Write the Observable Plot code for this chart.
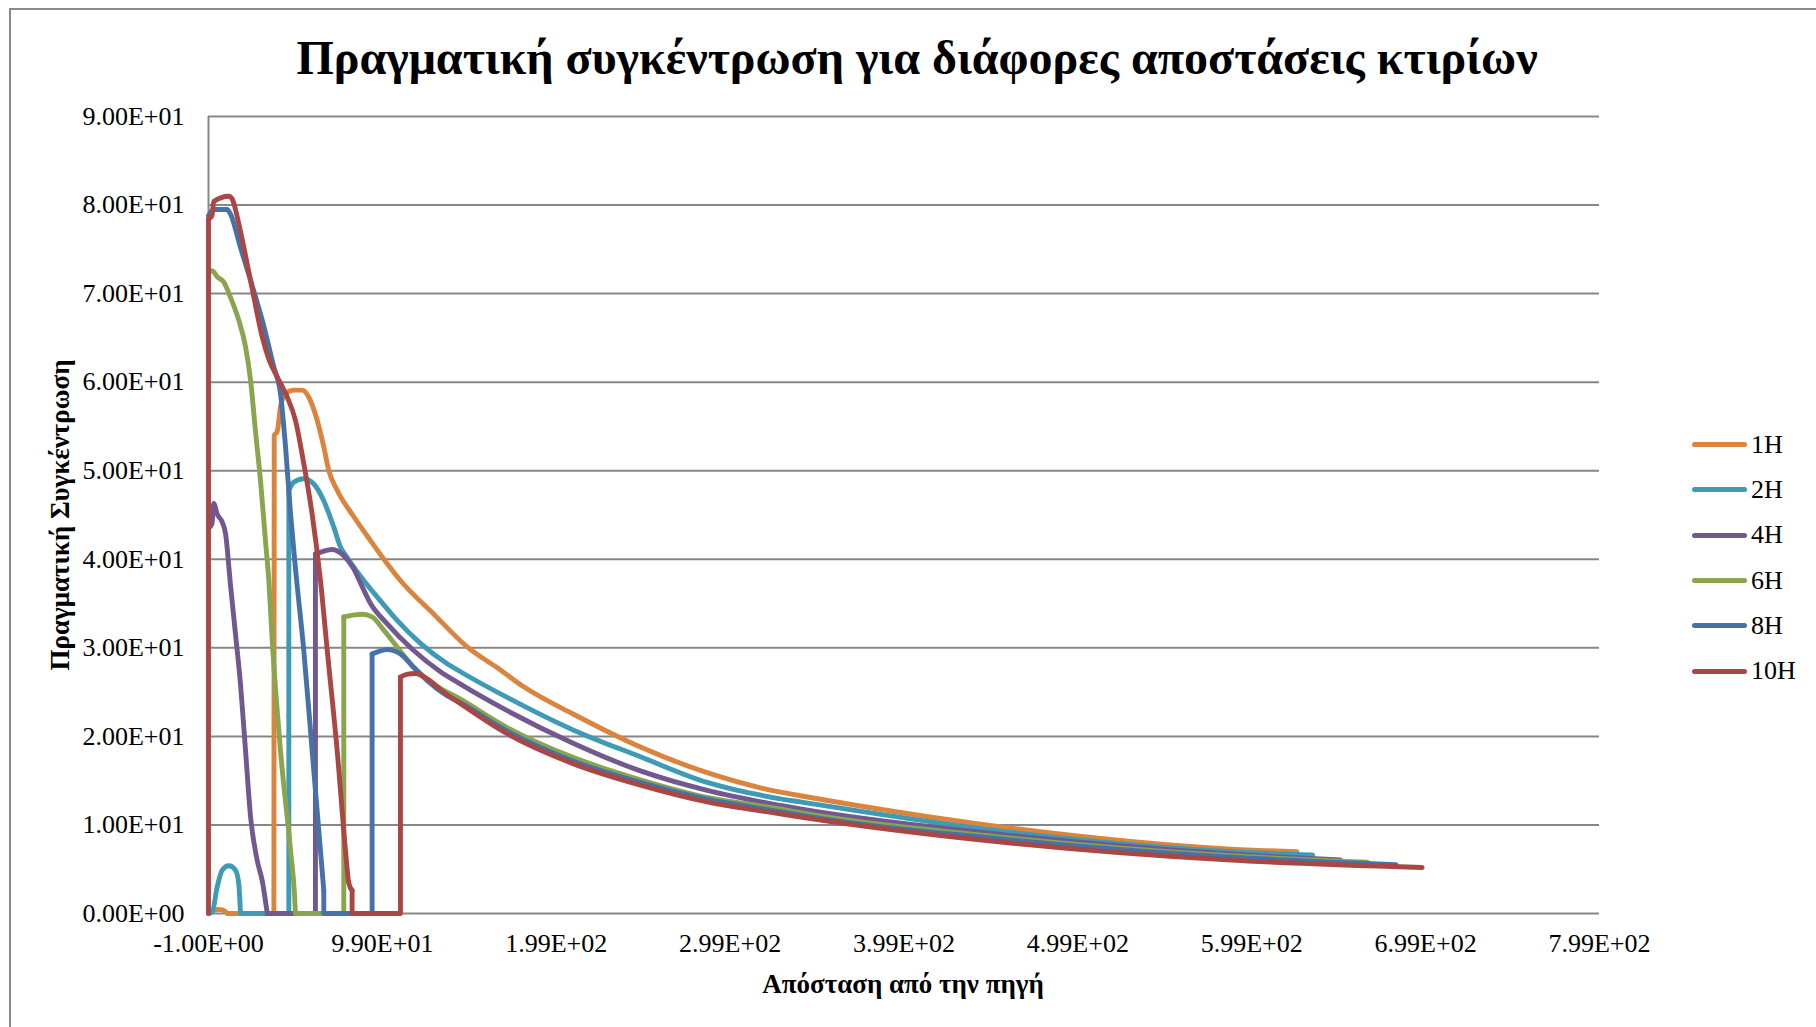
<!DOCTYPE html>
<html>
<head>
<meta charset="utf-8">
<script src="https://cdn.jsdelivr.net/npm/d3@7"></script>
<script src="https://cdn.jsdelivr.net/npm/@observablehq/plot@0.6"></script>
<style>
  html, body { margin: 0; padding: 0; background: #fff; }
  #chart { position: relative; width: 1816px; height: 1027px; overflow: hidden;
           font-family: "Liberation Serif", "Times New Roman", serif; color: #000; background: #fff; }
  #frame { position: absolute; left: 9px; top: 8px; width: 1840px; height: 1060px; border: 2px solid #8a8a8a; box-sizing: border-box; }
  #plot { position: absolute; left: 0; top: 0; }
  #title { position: absolute; left: 0; width: 1834px; top: 31px; text-align: center;
           font-weight: bold; font-size: 48px; line-height: 54px; white-space: nowrap; }
  #xtitle { position: absolute; left: 903px; top: 984px; transform: translate(-50%, -50%);
            font-weight: bold; font-size: 27px; white-space: nowrap; }
  #ytitle { position: absolute; left: 60px; top: 515px; transform: translate(-50%, -50%) rotate(-90deg);
            font-weight: bold; font-size: 27px; white-space: nowrap; }
  #legend { position: absolute; left: 1692px; top: 422px; }
  .row { height: 45.3px; display: flex; align-items: center; font-size: 26px; white-space: nowrap; }
  .swatch { display: inline-block; width: 55px; height: 5px; border-radius: 3px; margin-right: 4px; }
</style>
</head>
<body>
<div id="chart">
  <div id="frame"></div>
  <div id="plot"></div>
  <div id="title"></div>
  <div id="xtitle"></div>
  <div id="ytitle"></div>
  <div id="legend"></div>
</div>
<script>
// ---- Text ----
const chartTitle = "Πραγματική συγκέντρωση για διάφορες αποστάσεις κτιρίων";
const xTitle = "Απόσταση από την πηγή";
const yTitle = "Πραγματική Συγκέντρωση";

// ---- Categories / styles ----
const seriesNames = ["1H", "2H", "4H", "6H", "8H", "10H"];
const seriesColors = ["#DB843D", "#3D9BB5", "#71588F", "#89A54E", "#4572A7", "#AA4643"];

// ---- Ticks ----
const xTicks = [-1, 99, 199, 299, 399, 499, 599, 699, 799];
const yTicks = [0, 10, 20, 30, 40, 50, 60, 70, 80, 90];

// ---- Series values (distance, concentration) ----
const dist1H = [-1, 1, 4, 7, 10, 36.6, 36.8, 38.5, 40.4, 43.3, 48, 52.9, 56.7, 61.5, 65.3, 68.2, 73, 82.6, 92.2, 101.8, 109.4, 128.6, 147.8, 166.9, 180.3, 209, 247.4, 285.8, 328, 339.4, 456, 584.6, 625];
const conc1H = [0, 0.3, 0.45, 0.4, 0, 0, 54, 54.4, 57.2, 58.7, 59.1, 59.1, 58.3, 55.7, 52.7, 50, 47.8, 44.8, 42.1, 39.5, 37.6, 33.8, 30.1, 27.5, 25.6, 22.5, 18.8, 15.9, 13.7, 13.3, 9.75, 7.3, 6.97];

const dist2H = [-1, 1.1, 4, 6.9, 10.7, 14.5, 16.4, 17.4, 45.2, 45.2, 48, 53.8, 59.6, 65.3, 71.1, 74.9, 78.8, 88.3, 97.9, 107.5, 120.9, 136.3, 143.9, 170.8, 209, 247.4, 285.8, 328, 339.4, 456, 584.6, 634];
const conc2H = [0, 0.15, 3, 4.9, 5.4, 4.9, 3.4, 0, 0, 47.8, 48.7, 49.1, 48.5, 46.6, 43.6, 41.4, 40.2, 37.6, 35.3, 33.1, 30.5, 28.2, 27.3, 24.4, 20.7, 17.7, 14.8, 12.95, 12.6, 9.26, 7.0, 6.6];

const dist4H = [-1, 1, 2, 4, 6.9, 8.8, 11.6, 14.5, 17.4, 20.3, 23.2, 27, 29.9, 32.8, 60.5, 60.5, 65, 70.1, 76.8, 82.6, 87.4, 92.2, 101.8, 117, 132.4, 143.9, 170.8, 209, 247.4, 285.8, 328, 339.4, 456, 584.6, 650];
const conc4H = [43.5, 44, 46.3, 45.1, 44.2, 42.9, 37.2, 31.6, 25.9, 18.4, 10.9, 6, 3.7, 0, 0, 40.6, 40.9, 41.1, 40.4, 38.9, 36.9, 35, 32.7, 29.7, 27.3, 25.9, 22.9, 19.2, 16.1, 13.9, 12.2, 11.8, 8.9, 6.74, 6.05];

const dist6H = [-1, 1.1, 4, 7.8, 11.6, 16.4, 20.3, 23.2, 26, 28.9, 31.8, 33.7, 35.6, 40.4, 46.2, 48.5, 49, 76.8, 76.8, 82, 87.4, 93.1, 99.8, 107.5, 117, 128.6, 143.9, 170.8, 209, 247.4, 285.8, 328, 339.4, 456, 584.6, 665.5];
const conc6H = [72.3, 72.6, 71.9, 71.3, 69.6, 67, 64, 60.2, 54.5, 48.9, 42, 37.6, 31, 18.4, 7.1, 2, 0, 0, 33.5, 33.7, 33.8, 33.5, 32, 30.1, 27.8, 25.9, 24.2, 21.0, 17.6, 15.1, 13.1, 11.8, 11.4, 8.6, 6.55, 5.8];

const dist8H = [-1, 2, 9.7, 11.6, 17.4, 23.2, 29.9, 36.6, 40.4, 43.3, 46.2, 49, 53.8, 58.6, 63.4, 65.3, 65.3, 93.1, 93.1, 101.8, 109.4, 117, 124.8, 136.2, 143.9, 170.8, 209, 247.4, 285.8, 328, 339.4, 456, 584.6, 682];
const conc8H = [78.8, 79.5, 79.5, 79, 75.2, 71.5, 67, 61.7, 58.7, 52.7, 45.1, 39, 29.7, 18.4, 7.1, 2.6, 0, 0, 29.3, 29.8, 29.3, 27.8, 26.3, 24.6, 23.8, 20.6, 17.2, 14.8, 12.9, 11.5, 11.1, 8.4, 6.4, 5.5];

const dist10H = [-1, -1, 1, 2, 10.7, 12.6, 16.4, 21.2, 25.1, 29.9, 33.7, 38.5, 44.3, 49, 53.8, 58.6, 63.4, 67.3, 73, 77.8, 79.7, 81.6, 81.6, 109.4, 109.4, 113, 118, 124.8, 134.3, 143.9, 170.8, 209, 247.4, 285.8, 328, 339.4, 456, 584.6, 697];
const conc10H = [0, 78.4, 78.8, 80.4, 81.0, 80.7, 77.9, 73.4, 69.6, 65.1, 62.6, 60.6, 58.3, 55.7, 50.8, 45.1, 37.6, 29.7, 18.4, 7.1, 3.4, 2.6, 0, 0, 26.7, 27.0, 27.1, 26.5, 25, 23.7, 20.3, 16.9, 14.5, 12.6, 11.25, 10.9, 8.05, 6.06, 5.2];

const distances = [dist1H, dist2H, dist4H, dist6H, dist8H, dist10H];
const concentrations = [conc1H, conc2H, conc4H, conc6H, conc8H, conc10H];

// ---- Build tables: split each series into smooth pieces and straight pieces
// (vertical jumps / zero runs) so the smoothing never overshoots a corner.
const smoothRows = [];
const straightRows = [];
seriesNames.forEach((name, i) => {
  const xs = distances[i], ys = concentrations[i];
  let seg = 0, prevKind = null;
  for (let j = 0; j < xs.length - 1; j++) {
    const straight = xs[j] === xs[j + 1] || (ys[j] === 0 && ys[j + 1] === 0);
    const kind = straight ? "straight" : "smooth";
    const target = straight ? straightRows : smoothRows;
    if (kind !== prevKind) {
      seg++;
      target.push({series: name, key: name + "-" + seg, d: xs[j], c: ys[j]});
    }
    target.push({series: name, key: name + "-" + seg, d: xs[j + 1], c: ys[j + 1]});
    prevKind = kind;
  }
});

const sci = v => {
  const [m, e] = v.toExponential(2).split("e");
  return m + "E" + e[0] + e.slice(1).padStart(2, "0");
};

const lineMarks = seriesNames.flatMap(name => [
  Plot.line(straightRows.filter(r => r.series === name), {
    x: "d", y: "c", z: "key", stroke: "series", strokeWidth: 4.9,
    curve: "linear", strokeLinejoin: "round", strokeLinecap: "round"
  }),
  Plot.line(smoothRows.filter(r => r.series === name), {
    x: "d", y: "c", z: "key", stroke: "series", strokeWidth: 4.9,
    curve: "monotone-x", strokeLinejoin: "round", strokeLinecap: "round"
  })
]);

const plot = Plot.plot({
  width: 1816,
  height: 1027,
  marginLeft: 208,
  marginRight: 217,
  marginTop: 116,
  marginBottom: 114,
  style: {fontFamily: '"Liberation Serif", "Times New Roman", serif', fontSize: "26px", color: "#000", background: "transparent", overflow: "visible"},
  x: {domain: [-1, 799]},
  y: {domain: [0, 90]},
  color: {domain: seriesNames, range: seriesColors},
  marks: [
    Plot.gridY({ticks: yTicks, stroke: "#878787", strokeOpacity: 1, strokeWidth: 2}),
    Plot.ruleX([-1], {stroke: "#878787", strokeWidth: 2}),
    Plot.axisY({ticks: yTicks, tickFormat: sci, tickSize: 0, tickPadding: 24, label: null, fontSize: 26}),
    Plot.axisX({ticks: xTicks, tickFormat: sci, tickSize: 0, tickPadding: 20, label: null, fontSize: 26}),
    ...lineMarks
  ]
});
document.getElementById("plot").appendChild(plot);

document.getElementById("title").textContent = chartTitle;
document.getElementById("xtitle").textContent = xTitle;
document.getElementById("ytitle").textContent = yTitle;

const legend = document.getElementById("legend");
seriesNames.forEach((name, i) => {
  const row = document.createElement("div");
  row.className = "row";
  const sw = document.createElement("span");
  sw.className = "swatch";
  sw.style.background = seriesColors[i];
  row.appendChild(sw);
  row.appendChild(document.createTextNode(name));
  legend.appendChild(row);
});
</script>
</body>
</html>
